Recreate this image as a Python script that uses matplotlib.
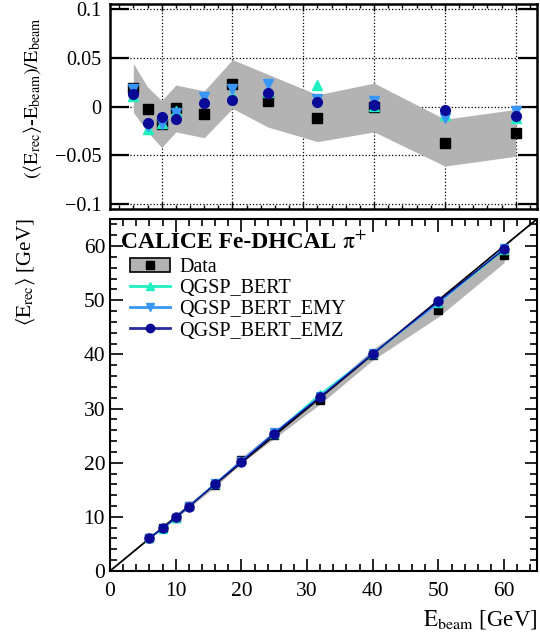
import numpy as np
import matplotlib
matplotlib.use("Agg")
import matplotlib.pyplot as plt
from matplotlib.patches import Patch
from matplotlib.lines import Line2D
from matplotlib.ticker import MultipleLocator, FixedLocator

plt.rcParams['font.family'] = ['Liberation Serif', 'DejaVu Serif']
plt.rcParams['mathtext.fontset'] = 'stix'

# beam energies [GeV]
e_beam = [6, 8, 10, 12, 16, 20, 25, 32, 40, 50, 60]

# relative residuals (<E_rec>-E_beam)/E_beam
data_rel = [0.019, -0.003, -0.018, -0.002, -0.008, 0.023, 0.006, -0.012, -0.001, -0.037, -0.027]
data_rel_sys = [0.025, 0.023, 0.024, 0.024, 0.024, 0.025, 0.027, 0.024, 0.025, 0.024, 0.024]
bert_rel = [0.011, -0.023, -0.017, -0.005, 0.009, 0.012, 0.015, 0.022, 0.001, -0.009, -0.012]
emy_rel = [0.018, -0.020, -0.018, -0.007, 0.010, 0.018, 0.023, 0.008, 0.006, -0.012, -0.005]
emz_rel = [0.013, -0.017, -0.011, -0.013, 0.004, 0.007, 0.014, 0.005, 0.002, -0.004, -0.010]

# mean reconstructed energy [GeV]
data_rec = [6.11, 7.98, 9.82, 11.98, 15.87, 20.46, 25.15, 31.62, 39.96, 48.15, 58.38]
data_rec_sys = [0.15, 0.18, 0.24, 0.29, 0.38, 0.50, 0.68, 0.77, 1.00, 1.20, 1.44]
bert_rec = [6.07, 7.82, 9.83, 11.94, 16.14, 20.24, 25.38, 32.70, 40.04, 49.55, 59.28]
emy_rec = [6.11, 7.84, 9.82, 11.92, 16.16, 20.36, 25.58, 32.26, 40.24, 49.40, 59.70]
emz_rec = [6.08, 7.86, 9.89, 11.84, 16.06, 20.14, 25.35, 32.16, 40.08, 49.80, 59.40]

top_yticks = [-0.1, -0.05, 0, 0.05, 0.1]
top_yticklabels = ['\u22120.1', '\u22120.05', '0', '0.05', '0.1']

band_col = '#b3b3b3'
bert_col = '#1ef0c0'
emy_col = '#3a96f5'
emz_col = '#0a0a96'

fig = plt.figure(figsize=(5.4, 6.33), dpi=100)
ax1 = fig.add_axes([0.2037, 0.6698, 0.7907, 0.3239])
ax2 = fig.add_axes([0.2037, 0.0980, 0.7907, 0.5560])

E = np.array(e_beam)

# ---- residual panel ----
lo = np.array(data_rel) - np.array(data_rel_sys)
hi = np.array(data_rel) + np.array(data_rel_sys)
ax1.fill_between(E, lo, hi, color=band_col, lw=0, zorder=1)
ax1.plot(E, data_rel, 's', color='black', ms=6.5, zorder=3)
ax1.plot(E, bert_rel, '^', color=bert_col, ms=7, zorder=4)
ax1.plot(E, emy_rel, 'v', color=emy_col, ms=7, zorder=5)
ax1.plot(E, emz_rel, 'o', color=emz_col, ms=7, zorder=6)

ax1.set_xlim(2.7, 63)
ax1.set_ylim(-0.105, 0.105)
ax1.xaxis.set_major_locator(MultipleLocator(10))
ax1.xaxis.set_minor_locator(MultipleLocator(2))
ax1.yaxis.set_major_locator(FixedLocator(top_yticks))
ax1.set_yticklabels(top_yticklabels)
ax1.set_xticklabels([])
ax1.grid(True, which='major', ls=':', color='black', lw=0.9, zorder=0)
ax1.tick_params(which='both', direction='in', top=True, right=True, labelsize=14.5)
ax1.tick_params(axis='x', which='major', length=5, width=1)
ax1.tick_params(axis='x', which='minor', length=3, width=1)
ax1.tick_params(axis='y', which='major', length=14, width=1.6, pad=6)
for s in ax1.spines.values():
    s.set_linewidth(1.8)
ax1.set_ylabel(r'$(\langle\mathrm{E}_{\mathrm{rec}}\rangle$-$\mathrm{E}_{\mathrm{beam}})/\mathrm{E}_{\mathrm{beam}}$',
               fontsize=14.5)
ax1.yaxis.set_label_coords(-0.155, 0.54)
ax1.set_axisbelow(True)

# ---- linearity panel ----
lo2 = np.array(data_rec) - np.array(data_rec_sys)
hi2 = np.array(data_rec) + np.array(data_rec_sys)
ax2.fill_between(E, lo2, hi2, color=band_col, lw=0, zorder=1)
ax2.plot([0, 65], [0, 65], color='black', lw=1.3, zorder=2)
ax2.plot(E, data_rec, 's', color='black', ms=6, zorder=3)
ax2.plot(E, bert_rec, '-^', color=bert_col, ms=6, lw=1, zorder=4)
ax2.plot(E, emy_rec, '-v', color=emy_col, ms=6, lw=1, zorder=5)
ax2.plot(E, emz_rec, '-o', color=emz_col, ms=6.5, lw=1, zorder=6)

ax2.set_xlim(0, 65)
ax2.set_ylim(0, 65)
ax2.xaxis.set_major_locator(MultipleLocator(10))
ax2.xaxis.set_minor_locator(MultipleLocator(2))
ax2.yaxis.set_major_locator(MultipleLocator(10))
ax2.yaxis.set_minor_locator(MultipleLocator(2))
ax2.tick_params(which='both', direction='in', top=True, right=True, labelsize=15.5)
ax2.tick_params(which='major', length=9, width=1.2)
ax2.tick_params(which='minor', length=5, width=1.2)
ax2.tick_params(axis='x', pad=8)
for s in ax2.spines.values():
    s.set_linewidth(1.5)
ax2.set_xlabel(r'$\mathrm{E}_{\mathrm{beam}}$ [GeV]', fontsize=16.5, loc='right', labelpad=5)
ax2.set_ylabel(r'$\langle\mathrm{E}_{\mathrm{rec}}\rangle$ [GeV]', fontsize=15, loc='top')
ax2.yaxis.set_label_coords(-0.172, 1.0)

ax2.text(0.026, 0.932, 'CALICE Fe-DHCAL', transform=ax2.transAxes,
         fontsize=17, fontweight='bold', va='center', ha='left')
ax2.text(0.543, 0.934, r'$\mathrm{\pi}^{+}$', transform=ax2.transAxes,
         fontsize=17, va='center', ha='left')

handles = [
    (Patch(facecolor=band_col, edgecolor='black', lw=1.2),
     Line2D([], [], marker='s', color='black', ls='none', ms=6)),
    Line2D([], [], marker='^', color=bert_col, lw=2, ms=6),
    Line2D([], [], marker='v', color=emy_col, lw=2, ms=6),
    Line2D([], [], marker='o', color='#2a2aa0', mfc=emz_col, mec=emz_col, lw=2, ms=6),
]
labels = ['Data', 'QGSP_BERT', 'QGSP_BERT_EMY', 'QGSP_BERT_EMZ']
ax2.legend(handles, labels, loc='upper left', bbox_to_anchor=(0.047, 0.889),
           frameon=False, fontsize=14.5, handlelength=2.0, handletextpad=0.45,
           labelspacing=0.1, borderaxespad=0, borderpad=0)

fig.savefig('out.png', dpi=100)
